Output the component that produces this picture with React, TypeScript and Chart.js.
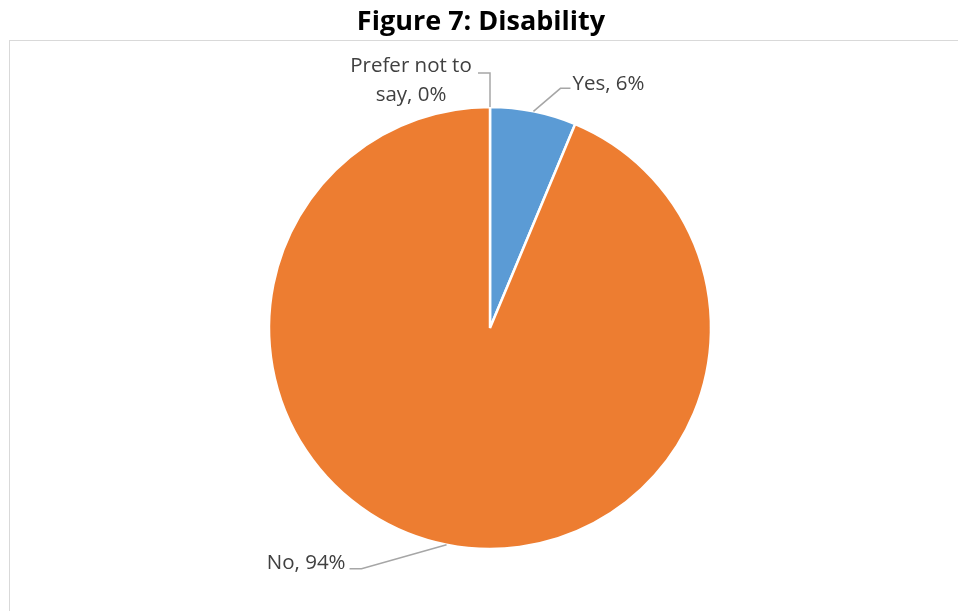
import React, { useEffect, useRef } from "react";
import { Chart, registerables } from "chart.js";

Chart.register(...registerables);

const TITLE = "Figure 7: Disability";
const CATEGORIES = ["Yes", "No", "Prefer not to say"];
const VALUES = [6.3, 93.7, 0];
const LABEL_TEXTS = [["Yes, 6%"], ["No, 94%"], ["Prefer not to", "say, 0%"]];
const COLORS = ["#5B9BD5", "#ED7D31", "#A5A5A5"];

// leader-line / text layout relative to the slice edge point
const LABEL_LAYOUT = [
  { elbow: [27, -23], run: 10, align: "left", text: [2, -4], lineH: 28 },
  { elbow: [-85, 24], run: -12, align: "right", text: [-4, -6], lineH: 28 },
  { elbow: [0, -34], run: -12, align: "center", text: [-67, -7], lineH: 29 },
];

const labelPlugin = {
  id: "pieLabels",
  beforeDraw(chart: any) {
    const ctx = chart.ctx;
    ctx.save();
    ctx.fillStyle = "#ffffff";
    ctx.fillRect(0, 0, chart.width, chart.height);
    ctx.strokeStyle = "#D9D9D9";
    ctx.lineWidth = 1;
    ctx.strokeRect(9.5, 40.5, chart.width + 10, chart.height + 10);
    ctx.fillStyle = "#000000";
    ctx.font = "bold 27px 'Open Sans'";
    ctx.textAlign = "center";
    ctx.textBaseline = "middle";
    ctx.fillText(TITLE, 481, 22);
    ctx.restore();
  },
  afterDatasetsDraw(chart: any) {
    const ctx = chart.ctx;
    const meta = chart.getDatasetMeta(0);
    ctx.save();
    meta.data.forEach((arc: any, i: number) => {
      const p = arc.getProps(["x", "y", "startAngle", "endAngle", "outerRadius"], true);
      const mid = (p.startAngle + p.endAngle) / 2;
      const sx = p.x + Math.cos(mid) * p.outerRadius;
      const sy = p.y + Math.sin(mid) * p.outerRadius;
      const lay = LABEL_LAYOUT[i];
      const ex = sx + lay.elbow[0];
      const ey = sy + lay.elbow[1];
      const fx = ex + lay.run;
      ctx.strokeStyle = "#A6A6A6";
      ctx.lineWidth = 1.5;
      ctx.beginPath();
      ctx.moveTo(sx, sy);
      ctx.lineTo(ex, ey);
      ctx.lineTo(fx, ey);
      ctx.stroke();
      ctx.fillStyle = "#404040";
      ctx.font = "20.5px 'Open Sans'";
      ctx.textAlign = lay.align;
      ctx.textBaseline = "middle";
      LABEL_TEXTS[i].forEach((t, k) => {
        ctx.fillText(t, fx + lay.text[0], ey + lay.text[1] + k * lay.lineH);
      });
    });
    ctx.restore();
  },
};

export default function App() {
  const ref = useRef<HTMLCanvasElement>(null);
  useEffect(() => {
    if (!ref.current) return;
    const chart = new Chart(ref.current, {
      type: "pie",
      data: {
        labels: CATEGORIES,
        datasets: [
          {
            data: VALUES,
            backgroundColor: COLORS,
            borderColor: "#ffffff",
            borderWidth: 2.5,
            radius: 221,
          } as any,
        ],
      },
      options: {
        animation: false,
        responsive: false,
        layout: { padding: { left: 122, right: 100, top: 100, bottom: 55 } },
        plugins: {
          legend: { display: false },
          tooltip: { enabled: false },
          title: { display: false },
        },
      },
      plugins: [labelPlugin as any],
    });
    return () => chart.destroy();
  }, []);
  return (
    <div style={{ position: "absolute", left: 0, top: 0, width: 958, height: 611 }}>
      <canvas ref={ref} width={958} height={611} />
    </div>
  );
}
